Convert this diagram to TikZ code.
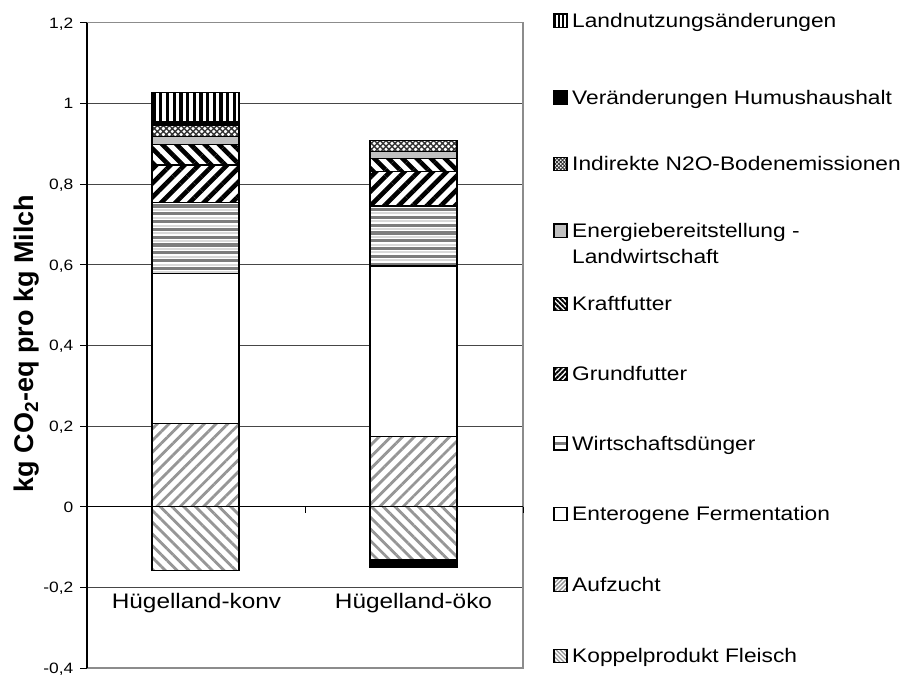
\documentclass[tikz,border=0pt]{standalone}
\usepackage{fontspec}
\setmainfont{Liberation Sans}
\newfontfamily\wide{Liberation Sans}[FakeStretch=1.16]
\usetikzlibrary{patterns.meta}
\definecolor{stripegray}{RGB}{150,150,150}
\definecolor{wirtgray}{RGB}{125,125,125}
\definecolor{enggray}{RGB}{192,192,192}
\definecolor{gridc}{RGB}{70,70,70}
\definecolor{framec}{RGB}{140,140,140}
\begin{document}
\begin{tikzpicture}[x=1pt,y=-1pt,
  seg/.style={draw=black, line width=1.2pt},
  koppel/.style={seg, preaction={fill=white}, pattern={Lines[angle=-45,distance=8.3pt,line width=2.8pt]}, pattern color=stripegray},
  aufzucht/.style={seg, preaction={fill=white}, pattern={Lines[angle=45,distance=8.3pt,line width=2.8pt]}, pattern color=stripegray},
  entero/.style={seg, fill=white},
  wirtline/.style={wirtgray, line width=3.2pt},
  wirtlight/.style={black!15, line width=2pt},
  grund/.style={seg, preaction={fill=white}, pattern={Lines[angle=45,distance=10pt,line width=4.6pt]}, pattern color=black},
  kraft/.style={seg, preaction={fill=white}, pattern={Lines[angle=-45,distance=10pt,line width=4.6pt]}, pattern color=black},
  energie/.style={seg, fill=enggray},
  nzwo/.style={seg, preaction={fill=white}, pattern={Hatch[angle=45,distance=4.2pt,line width=1.4pt]}, pattern color=black!80},
  humus/.style={seg, fill=black},
  land/.style={seg, preaction={fill=white}, pattern={Lines[angle=90,distance=6.7pt,line width=3.3pt]}, pattern color=black},
  icon/.style={draw=black, line width=1.1pt},
  ikoppel/.style={icon, preaction={fill=white}, pattern={Lines[angle=-45,distance=3pt,line width=1.4pt]}, pattern color=stripegray},
  iaufzucht/.style={icon, preaction={fill=white}, pattern={Lines[angle=45,distance=3pt,line width=1.4pt]}, pattern color=stripegray},
  ientero/.style={icon, fill=white},
  igrund/.style={icon, preaction={fill=white}, pattern={Lines[angle=45,distance=3.6pt,line width=2pt]}, pattern color=black},
  ikraft/.style={icon, preaction={fill=white}, pattern={Lines[angle=-45,distance=3.6pt,line width=2pt]}, pattern color=black},
  ienergie/.style={icon, fill=enggray},
  inzwo/.style={icon, preaction={fill=white}, pattern={Hatch[angle=45,distance=2.6pt,line width=0.9pt]}, pattern color=black!80},
  ihumus/.style={icon, fill=black},
  iland/.style={icon, preaction={fill=white}, pattern={Lines[angle=90,distance=4.4pt,line width=2.4pt]}, pattern color=black},
  leg/.style={anchor=base west, inner sep=0pt, font=\wide\fontsize{19.6}{24}\selectfont},
  tick/.style={anchor=base east, inner sep=0pt, font=\wide\fontsize{15}{18}\selectfont},
  cat/.style={anchor=base, inner sep=0pt, font=\wide\fontsize{21}{25}\selectfont}
]
\useasboundingbox (0,0) rectangle (906,675);
\fill[white] (0,0) rectangle (906,675);

% grid lines
\foreach \yy in {103.4,184.1,264.7,345.4,426,587.4}
  \draw[gridc, line width=0.9pt] (87,\yy) -- (523,\yy);
% plot frame
\draw[framec, line width=1.1pt] (87,22.7) -- (523,22.7) -- (523,668) -- (87,668);

% bar 1: Huegelland-konv
\draw[koppel]   (152,506.7) rectangle (239,570.7);
\draw[aufzucht] (152,423.3) rectangle (239,506.7);
\draw[entero]   (152,273.3) rectangle (239,423.3);
\fill[white]    (152,202.7) rectangle (239,273.3);
\begin{scope}
  \clip (152,202.7) rectangle (239,273.3);
  \foreach \yy in {0,...,9} {
    \draw[wirtline]  (152,206+7.8*\yy) -- (239,206+7.8*\yy);
    \draw[wirtlight] (152,209.9+7.8*\yy) -- (239,209.9+7.8*\yy);
  }
\end{scope}
\draw[seg]      (152,202.7) rectangle (239,273.3);
\draw[grund]    (152,165)   rectangle (239,202.7);
\draw[kraft]    (152,144.3) rectangle (239,165);
\draw[energie]  (152,136.7) rectangle (239,144.3);
\draw[nzwo]     (152,125.3) rectangle (239,136.7);
\draw[humus]    (152,121.9) rectangle (239,125.3);
\draw[land]     (152,92.7)  rectangle (239,121.9);

% bar 2: Huegelland-oeko
\draw[humus]    (370,560)   rectangle (457,567.3);
\draw[koppel]   (370,506.7) rectangle (457,560);
\draw[aufzucht] (370,436.7) rectangle (457,506.7);
\draw[entero]   (370,266)   rectangle (457,436.7);
\fill[white]    (370,206)   rectangle (457,266);
\begin{scope}
  \clip (370,206) rectangle (457,266);
  \foreach \yy in {0,...,8} {
    \draw[wirtline]  (370,209.5+7.8*\yy) -- (457,209.5+7.8*\yy);
    \draw[wirtlight] (370,213.4+7.8*\yy) -- (457,213.4+7.8*\yy);
  }
\end{scope}
\draw[seg]      (370,206)   rectangle (457,266);
\draw[grund]    (370,171.7) rectangle (457,206);
\draw[kraft]    (370,158.3) rectangle (457,171.7);
\draw[energie]  (370,151.7) rectangle (457,158.3);
\draw[nzwo]     (370,140.7) rectangle (457,151.7);

% zero line and category ticks
\draw[black, line width=1pt] (87,506.7) -- (523,506.7);
\draw[black, line width=1pt] (305,506.7) -- (305,513);
\draw[black, line width=1pt] (523,506.7) -- (523,513);

% y axis
\draw[black, line width=1.2pt] (87,22.7) -- (87,668);
\foreach \yy in {22.7,103.4,184.1,264.7,345.4,426,506.7,587.4,668}
  \draw[black, line width=1pt] (80,\yy) -- (87,\yy);

% tick labels
\node[tick] (t12) at (73.5,28.1)  {1,2};
\node[tick] (t10) at (73.5,108.8) {1};
\node[tick] (t08) at (73.5,189.5) {0,8};
\node[tick] (t06) at (73.5,270.1) {0,6};
\node[tick] (t04) at (73.5,350.8) {0,4};
\node[tick] (t02) at (73.5,431.4) {0,2};
\node[tick] (t00) at (73.5,512.1) {0};
\node[tick] (tm2) at (73.5,592.8) {-0,2};
\node[tick] (tm4) at (73.5,673.4) {-0,4};

% axis title
\node[rotate=90, anchor=base, inner sep=0pt, font=\bfseries\fontsize{27}{30}\selectfont] (ylab) at (33.5,343.5)
  {kg CO\textsubscript{2}-eq pro kg Milch};

% category labels
\node[cat] (c1) at (196.5,608.3) {Hügelland-konv};
\node[cat] (c2) at (413.5,608.3) {Hügelland-öko};

% legend
\draw[iland]     (554,14)    rectangle (567,27.3);
\draw[ihumus]    (554,90.7)  rectangle (567,104);
\draw[inzwo]     (554,157.4) rectangle (567,170.7);
\draw[ienergie]  (554,224)   rectangle (567,237.3);
\draw[ikraft]    (554,297.4) rectangle (567,310.7);
\draw[igrund]    (554,367.2) rectangle (567,380.5);
\fill[white]     (554,436.7) rectangle (567,450);
\draw[wirtgray, line width=2.6pt] (554,443.35) -- (567,443.35);
\draw[icon]      (554,436.7) rectangle (567,450);
\draw[ientero]   (554,507.4) rectangle (567,520.7);
\draw[iaufzucht] (554,578)   rectangle (567,591.3);
\draw[ikoppel]   (554,649.2) rectangle (567,662.5);

\node[leg] (l1)  at (572,27.3)  {Landnutzungsänderungen};
\node[leg] (l2)  at (572,104)   {Veränderungen Humushaushalt};
\node[leg] (l3)  at (572,170.7) {Indirekte N2O-Bodenemissionen};
\node[leg] (l4a) at (572,237.3) {Energiebereitstellung -};
\node[leg] (l4b) at (572,263.3) {Landwirtschaft};
\node[leg] (l5)  at (572,310.7) {Kraftfutter};
\node[leg] (l6)  at (572,380.5) {Grundfutter};
\node[leg] (l7)  at (572,450)   {Wirtschaftsdünger};
\node[leg] (l8)  at (572,520.7) {Enterogene Fermentation};
\node[leg] (l9)  at (572,591.3) {Aufzucht};
\node[leg] (l10) at (572,662.5) {Koppelprodukt Fleisch};
\end{tikzpicture}
\end{document}
